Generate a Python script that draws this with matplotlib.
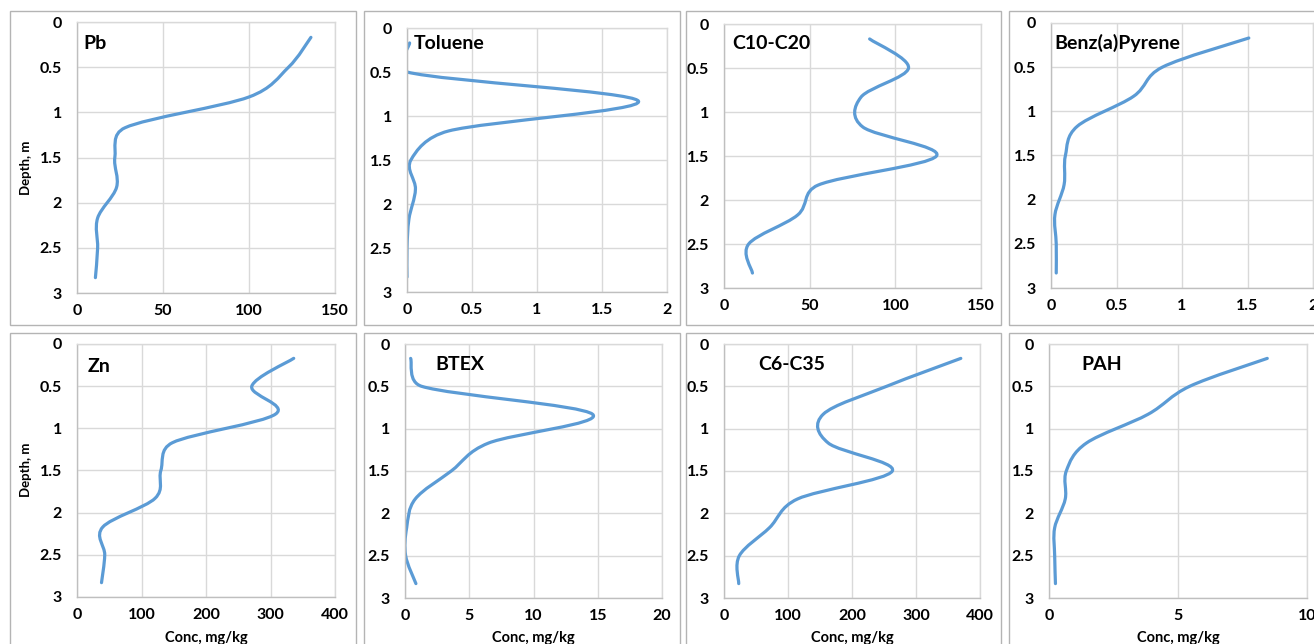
import matplotlib
matplotlib.use("Agg")
import matplotlib.pyplot as plt
from matplotlib.path import Path
from matplotlib.patches import PathPatch, Rectangle
from matplotlib.ticker import FuncFormatter
import numpy as np

plt.rcParams['font.family'] = ['Lato', 'DejaVu Sans']
plt.rcParams['font.weight'] = 'bold'

depth = [0.17, 0.5, 0.83, 1.17, 1.5, 1.83, 2.17, 2.5, 2.83]

pb = [136, 123, 100, 28, 22, 23, 12, 12, 10.7]
toluene = [0.02, 0.0, 1.78, 0.32, 0.03, 0.065, 0.015, 0.0, 0.0]
c10_c20 = [85, 107.7, 80, 81, 124, 55, 43, 14.4, 16.6]
bap = [1.51, 0.85, 0.63, 0.2, 0.11, 0.1, 0.03, 0.04, 0.04]
zn = [336, 271, 308, 148, 130, 121, 40, 43, 38]
btex = [0.44, 1.3, 14.6, 6.5, 3.6, 0.8, 0.13, 0.05, 0.85]
c6_c35 = [370, 254, 155, 163, 263, 115, 71, 24, 23]
pah = [8.46, 5.45, 3.84, 1.45, 0.67, 0.63, 0.22, 0.22, 0.25]

titles = ["Pb", "Toluene", "C10-C20", "Benz(a)Pyrene", "Zn", "BTEX", "C6-C35", "PAH"]
series = [pb, toluene, c10_c20, bap, zn, btex, c6_c35, pah]
xticks = [[0, 50, 100, 150], [0, 0.5, 1, 1.5, 2], [0, 50, 100, 150], [0, 0.5, 1, 1.5, 2],
          [0, 100, 200, 300, 400], [0, 5, 10, 15, 20], [0, 100, 200, 300, 400], [0, 5, 10]]
yticks = [0, 0.5, 1, 1.5, 2, 2.5, 3]

W, H = 1314, 644
fig = plt.figure(figsize=(W / 100, H / 100), dpi=100)
fig.patch.set_facecolor('white')

# plot areas in pixels: (left, top, right, bottom)
areas = [(77, 22, 335, 293), (407, 28, 667, 292), (724, 24, 981, 288), (1051, 23, 1313, 288),
         (77, 344, 335, 597), (405, 344, 662, 598), (724, 344, 980, 598), (1049, 344, 1307, 598)]
boxes = [(10, 11, 356, 325), (364, 11, 680, 325), (686, 11, 1001, 325), (1009, 11, 1330, 325),
         (10, 333, 356, 650), (364, 333, 680, 650), (686, 333, 1001, 650), (1009, 333, 1330, 650)]
title_pos = [(0.023, 0.922), (0.027, 0.943), (0.031, 0.928), (0.011, 0.925),
             (0.043, 0.913), (0.12, 0.921), (0.133, 0.921), (0.124, 0.921)]

for (l, t, r, b) in boxes:
    fig.patches.append(Rectangle((l / W, 1 - b / H), (r - l) / W, (b - t) / H,
                                 transform=fig.transFigure, fill=False,
                                 edgecolor='#b4b4b4', linewidth=1.0, zorder=0))


def smooth_path(x, y, sx, sy):
    """Excel-style smoothed line: Bezier segments with capped tangents (in pixel space)."""
    pts = np.column_stack([np.asarray(x, float) * sx, np.asarray(y, float) * sy])
    n = len(pts)
    verts = [pts[0]]
    codes = [Path.MOVETO]
    for i in range(n - 1):
        p1 = pts[i]
        p2 = pts[i + 1]
        p0 = pts[i - 1] if i > 0 else p1
        p3 = pts[i + 2] if i + 2 < n else p2
        d02 = np.hypot(*(p2 - p0))
        d12 = np.hypot(*(p2 - p1))
        d13 = np.hypot(*(p3 - p1))
        f1 = 1 / 6 if (d02 == 0 or d02 / 6 < d12 / 2) else d12 / (2 * d02)
        f2 = 1 / 6 if (d13 == 0 or d13 / 6 < d12 / 2) else d12 / (2 * d13)
        c1 = p1 + (p2 - p0) * f1
        c2 = p2 - (p3 - p1) * f2
        verts += [c1, c2, p2]
        codes += [Path.CURVE4] * 3
    verts = np.array(verts) / np.array([sx, sy])
    return Path(verts, codes)


for i, (area, vals) in enumerate(zip(areas, series)):
    l, t, r, b = area
    ax = fig.add_axes([l / W, 1 - b / H, (r - l) / W, (b - t) / H])
    xmax = xticks[i][-1]
    ax.set_xlim(xticks[i][0], xmax)
    ax.set_ylim(3, 0)
    ax.set_xticks(xticks[i])
    ax.set_yticks(yticks)
    fmt = FuncFormatter(lambda v, p: '%g' % v)
    ax.xaxis.set_major_formatter(fmt)
    ax.yaxis.set_major_formatter(fmt)
    ax.tick_params(length=0, labelsize=11.5, pad=11)
    ax.tick_params(axis='x', pad=8)
    for lab in ax.get_xticklabels() + ax.get_yticklabels():
        lab.set_fontweight('bold')
    ax.grid(True, color='#d9d9d9', linewidth=1.0)
    ax.set_axisbelow(True)
    for s in ax.spines.values():
        s.set_color('#d9d9d9')
        s.set_linewidth(1.0)
    ax.spines['left'].set_color('#bfbfbf')
    ax.spines['bottom'].set_color('#bfbfbf')
    sx = (r - l) / xmax
    sy = (b - t) / 3.0
    patch = PathPatch(smooth_path(vals, depth, sx, sy), facecolor='none', edgecolor='#5B9BD5',
                      linewidth=2.3, capstyle='round', joinstyle='round')
    ax.add_patch(patch)
    ax.text(title_pos[i][0], title_pos[i][1], titles[i], transform=ax.transAxes,
            fontsize=14, fontweight='bold', ha='left', va='center')

# Axis labels
fig.text(26 / W, 1 - 168 / H, 'Depth, m', rotation=90, ha='center', va='center',
         fontsize=9.5, fontweight='bold')
fig.text(26 / W, 1 - 470 / H, 'Depth, m', rotation=90, ha='center', va='center',
         fontsize=9.5, fontweight='bold')
for (l, t, r, b) in areas[4:]:
    fig.text((l + r) / 2 / W, 1 - 638 / H, 'Conc, mg/kg', ha='center', va='center',
             fontsize=10.5, fontweight='bold')

fig.savefig('out.png', dpi=100)
